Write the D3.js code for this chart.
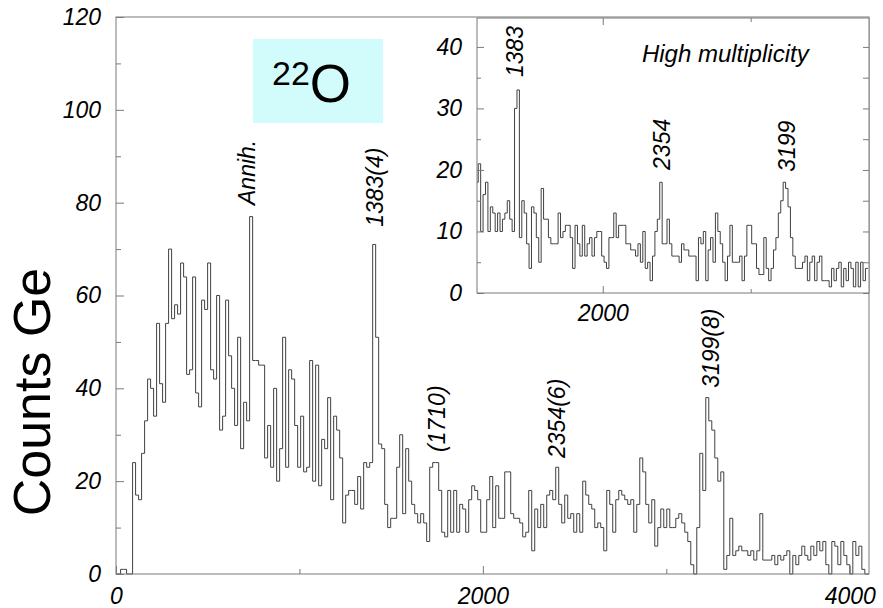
<!DOCTYPE html>
<html>
<head>
<meta charset="utf-8">
<script src="https://cdn.jsdelivr.net/npm/d3@7/dist/d3.min.js"></script>
<style>
  body { margin: 0; background: #fff; }
  text { font-family: "Liberation Sans", Arial, Helvetica, sans-serif; }
</style>
</head>
<body>
<svg id="chart" width="883" height="608"></svg>
<script>
// main spectrum: counts per bin, bins start at binStart keV
const binStart = 25;
const binWidth = 16.36;
const counts = [
  1, 1, 0, 0,
  24, 17, 16, 26, 33, 42, 40, 34, 54, 41, 37, 54, 70, 55, 58, 56, 67, 64, 43, 44,
  64, 39, 36, 59, 57, 67, 44, 42, 60, 31, 34, 59, 47, 40, 32, 51, 27, 37, 33, 77,
  46, 46, 45, 45, 25, 32, 23, 40, 20, 27, 51, 23, 44, 42, 32, 23,
  34, 22, 23, 46, 20, 45, 19, 29, 27, 38, 16, 34, 31, 25, 11, 17, 18, 18, 15, 21,
  14, 24, 23, 24, 71, 51, 28, 27, 15, 10, 12, 12, 23, 30, 13, 27, 20, 15, 13, 11,
  13, 11, 7, 23, 24, 24, 18, 9, 8, 18, 9, 18, 9, 15, 14, 9, 16, 19, 18, 16,
  9, 9, 16, 21, 10, 19, 12, 12, 22, 22, 13, 12, 12, 11, 8, 9, 18, 5, 14, 10,
  15, 10, 17, 18, 16, 23, 15, 11, 17, 12, 13, 9, 13, 9, 20, 17, 15, 14, 10, 11,
  10, 5, 18, 15, 9, 16, 18, 17, 16, 15, 16, 9, 15, 25, 22, 15, 11, 16, 6, 10,
  14, 10, 14, 10, 10, 12, 13, 11, 9, 7, 2, 0, 10, 26, 18, 38, 33, 31, 25, 20,
  22, 1, 4, 12, 4, 5, 6, 5, 5, 4, 5, 3, 5, 13, 3, 3, 3, 4, 2, 4,
  3, 4, 5, 0, 4, 2, 4, 6, 4, 3, 6, 4, 7, 5, 7, 2, 0, 7, 6, 2,
  7, 4, 2, 0, 7, 4, 6, 1
];

// inset: high multiplicity spectrum
const insetStart = 1142;
const insetCounts = [
  18, 21, 10, 16, 18, 10, 14, 13, 10, 13, 10, 12, 13, 15, 12, 10, 30, 33, 9, 15,
  13, 8, 4, 14, 13, 9, 5, 17, 12, 12, 9, 8, 8, 8, 13, 9, 10, 11, 11, 9,
  4, 11, 8, 6, 11, 6, 8, 9, 6, 9, 10, 10, 6, 5, 4, 9, 9, 13, 9, 11,
  11, 11, 8, 8, 7, 7, 6, 8, 5, 10, 4, 5, 2, 6, 10, 12, 18, 8, 8, 12,
  8, 6, 6,
  6, 5, 8, 7, 7, 6, 6, 6, 2, 9, 8, 10, 2, 7, 9, 5, 13, 10, 8, 5,
  2, 6, 11, 5, 5, 5, 6, 2, 6, 11, 11, 8, 8, 4, 3, 3, 9, 4, 2, 4,
  7, 9, 13, 15, 18, 17, 14, 9, 6, 4, 4, 4, 5, 6, 2, 5, 6, 2, 5, 6,
  2, 2, 2, 1, 4, 2, 4, 5, 1, 4, 2, 5, 4, 1, 5, 1, 5, 2, 4
];

const xTicks = [0, 2000, 4000];
const xMinor = [1000, 3000];
const yTicks = [0, 20, 40, 60, 80, 100, 120];
const yMinor = [10, 30, 50, 70, 90, 110];
const insetXTicks = [2000];
const insetXMinor = [3000];
const insetYTicks = [0, 10, 20, 30, 40];
const insetYMinor = [5, 15, 25, 35];

const peakLabels = ["Annih.", "1383(4)", "(1710)", "2354(6)", "3199(8)"];
const peakLabelE = [758, 1456, 1794, 2448, 3287];
const peakLabelC = [79.5, 74.8, 26.3, 25.0, 40.1];
const insetLabels = ["1383", "2354", "3199"];
const insetLabelE = [1461, 2455, 3300];
const insetLabelC = [35.1, 20.0, 19.7];

const svg = d3.select('#chart');
const axisColor = '#7a7a7a';
const lineColor = '#404040';
const fmt = d3.format('d');

// ---- main plot ----
const x = d3.scaleLinear().domain([0, 4105]).range([116, 869]);
const y = d3.scaleLinear().domain([0, 120]).range([574, 17]);

function stepPoints(start, data, from) {
  const pts = [];
  if (from !== undefined) pts.push([from, 0]);
  data.forEach(function(c, i) { pts.push([start + i * binWidth, c]); });
  pts.push([start + data.length * binWidth, from !== undefined ? 0 : data[data.length - 1]]);
  return pts;
}

const mainLine = d3.line()
  .x(function(d) { return x(d[0]); })
  .y(function(d) { return y(d[1]); })
  .curve(d3.curveStepAfter);

const mainPts = stepPoints(binStart, counts, 0);
mainPts.push([4105, 0]);

svg.append('path')
  .attr('d', mainLine(mainPts))
  .attr('fill', 'none')
  .attr('stroke', lineColor)
  .attr('stroke-width', 1);

function styleAxis(g) {
  g.select('.domain').remove();
  g.selectAll('line').attr('stroke', axisColor);
  g.selectAll('text')
    .attr('font-size', 23)
    .attr('font-style', 'italic')
    .attr('fill', '#000')
    .attr('font-family', '"Liberation Sans", Arial, sans-serif');
}

svg.append('g').attr('transform', 'translate(116,0)')
  .call(d3.axisLeft(y).tickValues(yTicks).tickFormat(fmt).tickSize(-8).tickPadding(15)).call(styleAxis);
svg.append('g').attr('transform', 'translate(116,0)')
  .call(d3.axisLeft(y).tickValues(yMinor).tickSize(-5).tickFormat('')).call(styleAxis);
svg.append('g').attr('transform', 'translate(0,574)')
  .call(d3.axisBottom(x).tickValues(xTicks).tickFormat(fmt).tickSize(-8).tickPadding(14)).call(styleAxis);
svg.append('g').attr('transform', 'translate(0,574)')
  .call(d3.axisBottom(x).tickValues(xMinor).tickSize(-5).tickFormat('')).call(styleAxis);

svg.append('rect')
  .attr('x', 116).attr('y', 17).attr('width', 869 - 116).attr('height', 574 - 17)
  .attr('fill', 'none').attr('stroke', axisColor).attr('stroke-width', 1);

svg.append('text')
  .attr('transform', 'translate(50,392) rotate(-90)')
  .attr('text-anchor', 'middle')
  .attr('font-size', 52)
  .text('Counts Ge');

// peak labels
svg.selectAll('.plabel')
  .data(peakLabels)
  .enter().append('text')
  .attr('class', 'plabel')
  .attr('transform', function(d, i) {
    return 'translate(' + x(peakLabelE[i]) + ',' + y(peakLabelC[i]) + ') rotate(-90)';
  })
  .attr('font-size', 23)
  .attr('font-style', 'italic')
  .text(function(d) { return d; });

// 22O box
svg.append('rect')
  .attr('x', 253).attr('y', 39).attr('width', 130).attr('height', 84)
  .attr('fill', '#d2fbfb');
const iso = svg.append('text').attr('x', 272).attr('y', 102);
iso.append('tspan').attr('font-size', 34).attr('dy', -17).text('22');
iso.append('tspan').attr('font-size', 53).attr('dy', 17).text('O');

// ---- inset ----
const ix = d3.scaleLinear().domain([1150, 3800]).range([477, 869]);
const iy = d3.scaleLinear().domain([0, 44.7]).range([293, 18]);

svg.append('rect')
  .attr('x', 477).attr('y', 18).attr('width', 869 - 477).attr('height', 293 - 18)
  .attr('fill', '#fff');

svg.append('clipPath').attr('id', 'insetClip')
  .append('rect').attr('x', 477).attr('y', 18).attr('width', 869 - 477).attr('height', 293 - 18);

const insetLine = d3.line()
  .x(function(d) { return ix(d[0]); })
  .y(function(d) { return iy(d[1]); })
  .curve(d3.curveStepAfter);

svg.append('path')
  .attr('d', insetLine(stepPoints(insetStart, insetCounts)))
  .attr('clip-path', 'url(#insetClip)')
  .attr('fill', 'none')
  .attr('stroke', lineColor)
  .attr('stroke-width', 1);

svg.append('g').attr('transform', 'translate(477,0)')
  .call(d3.axisLeft(iy).tickValues(insetYTicks).tickFormat(fmt).tickSize(-7).tickPadding(15)).call(styleAxis);
svg.append('g').attr('transform', 'translate(477,0)')
  .call(d3.axisLeft(iy).tickValues(insetYMinor).tickSize(-4).tickFormat('')).call(styleAxis);
svg.append('g').attr('transform', 'translate(869,0)')
  .call(d3.axisRight(iy).tickValues(insetYTicks.concat(insetYMinor)).tickSize(-6).tickFormat('')).call(styleAxis);
svg.append('g').attr('transform', 'translate(0,293)')
  .call(d3.axisBottom(ix).tickValues(insetXTicks).tickFormat(fmt).tickSize(-7).tickPadding(12)).call(styleAxis);
svg.append('g').attr('transform', 'translate(0,293)')
  .call(d3.axisBottom(ix).tickValues(insetXMinor).tickSize(-4).tickFormat('')).call(styleAxis);
svg.append('g').attr('transform', 'translate(0,18)')
  .call(d3.axisTop(ix).tickValues(insetXTicks).tickSize(-7).tickFormat('')).call(styleAxis);
svg.append('g').attr('transform', 'translate(0,18)')
  .call(d3.axisTop(ix).tickValues(insetXMinor).tickSize(-4).tickFormat('')).call(styleAxis);

svg.append('rect')
  .attr('x', 477).attr('y', 18).attr('width', 869 - 477).attr('height', 293 - 18)
  .attr('fill', 'none').attr('stroke', axisColor).attr('stroke-width', 1);

svg.selectAll('.ilabel')
  .data(insetLabels)
  .enter().append('text')
  .attr('class', 'ilabel')
  .attr('transform', function(d, i) {
    return 'translate(' + ix(insetLabelE[i]) + ',' + iy(insetLabelC[i]) + ') rotate(-90)';
  })
  .attr('font-size', 23)
  .attr('font-style', 'italic')
  .text(function(d) { return d; });

svg.append('text')
  .attr('x', ix(2265)).attr('y', iy(37.5))
  .attr('font-size', 24)
  .attr('font-style', 'italic')
  .text('High multiplicity');
</script>
</body>
</html>
